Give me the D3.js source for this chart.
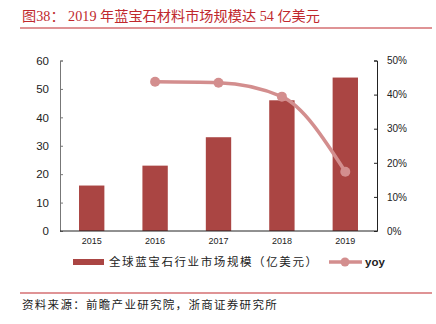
<!DOCTYPE html>
<html><head><meta charset="utf-8">
<script src="https://cdn.jsdelivr.net/npm/d3@7/dist/d3.min.js"></script>
<style>body{margin:0;background:#fff}svg{display:block}</style>
</head><body>
<svg id="c" width="436" height="324"></svg>
<script>
const categories = ["2015","2016","2017","2018","2019"];
const marketSize = [16, 23, 33, 46, 54];
const yoyYears = ["2016","2017","2018","2019"];
const yoyValues = [0.4375, 0.435, 0.394, 0.174];
const leftTicks = [0,10,20,30,40,50,60];
const rightTicks = [0,0.1,0.2,0.3,0.4,0.5];

const svg = d3.select("#c");
const cjk = "'Noto Sans CJK SC', sans-serif";
const serif = "'Liberation Serif','DejaVu Serif', 'Noto Sans CJK SC', serif";
const sans = "'Liberation Sans', Arial, sans-serif";
const red = "#c0282d";

// title
svg.append("text").attr("x",22).attr("y",21).attr("fill",red)
  .attr("font-family",serif).attr("font-size",14.2)
  .text("图38：  2019 年蓝宝石材料市场规模达 54 亿美元");
svg.append("line").attr("x1",20).attr("x2",432).attr("y1",28).attr("y2",28)
  .attr("stroke",red).attr("stroke-width",1.2);

const x0 = 60, x1 = 377, yTop = 60.5, yBot = 231;
const x = d3.scaleBand().domain(categories).range([x0,x1]).paddingInner(0.6).paddingOuter(0.3);
const yL = d3.scaleLinear().domain([0,60]).range([yBot,yTop]);
const yR = d3.scaleLinear().domain([0,0.5]).range([yBot,yTop]);

// bars
svg.append("g").selectAll("rect").data(categories).join("rect")
  .attr("x", d=>x(d)).attr("width", x.bandwidth())
  .attr("y", (d,i)=>yL(marketSize[i])).attr("height",(d,i)=>yBot-yL(marketSize[i]))
  .attr("fill","#aa4543");

// line
const line = d3.line().x((d,i)=>x(yoyYears[i])+x.bandwidth()/2).y(d=>yR(d)).curve(d3.curveMonotoneX);
svg.append("path").datum(yoyValues).attr("d",line).attr("fill","none")
  .attr("stroke","#d38e8e").attr("stroke-width",3.5);
svg.append("g").selectAll("circle").data(yoyValues).join("circle")
  .attr("cx",(d,i)=>x(yoyYears[i])+x.bandwidth()/2).attr("cy",d=>yR(d)).attr("r",5)
  .attr("fill","#d38e8e");

// left axis
const gL = svg.append("g").attr("transform",`translate(${x0},0)`)
  .call(d3.axisLeft(yL).tickValues(leftTicks).tickSize(-3).tickPadding(11));
gL.select(".domain").attr("stroke","#777");
gL.selectAll(".tick line").attr("stroke","#777");
gL.selectAll("text").attr("font-family",sans).attr("font-size",11.5).attr("fill","#222");

// right axis
const gR = svg.append("g").attr("transform",`translate(${x1},0)`)
  .call(d3.axisRight(yR).tickValues(rightTicks).tickSize(-3).tickPadding(10).tickFormat(d3.format(".0%")));
gR.select(".domain").attr("stroke","#222");
gR.selectAll(".tick line").attr("stroke","#222");
gR.selectAll("text").attr("font-family",sans).attr("font-size",10).attr("fill","#222");

// bottom axis
const gB = svg.append("g").attr("transform",`translate(0,${yBot})`)
  .call(d3.axisBottom(x).tickSize(0).tickPadding(7));
gB.select(".domain").attr("stroke","#222").attr("d",`M${x0},0H${x1}`);
gB.selectAll("text").attr("font-family",sans).attr("font-size",9).attr("fill","#222");

// legend
svg.append("rect").attr("x",73).attr("y",259).attr("width",31).attr("height",6).attr("fill","#aa4543");
svg.append("text").attr("x",109).attr("y",266).attr("font-family",cjk).attr("font-size",11.5)
  .attr("letter-spacing",1.6).attr("fill","#222").text("全球蓝宝石行业市场规模（亿美元）");
svg.append("line").attr("x1",329).attr("x2",362).attr("y1",262).attr("y2",262)
  .attr("stroke","#d38e8e").attr("stroke-width",3.5);
svg.append("circle").attr("cx",345).attr("cy",262).attr("r",4.5).attr("fill","#d38e8e");
svg.append("text").attr("x",365).attr("y",266).attr("font-family",sans).attr("font-size",11.5)
  .attr("font-weight","bold").attr("fill","#222").text("yoy");

// footer
svg.append("line").attr("x1",20).attr("x2",432).attr("y1",293).attr("y2",293)
  .attr("stroke",red).attr("stroke-width",1.2);
svg.append("text").attr("x",22).attr("y",309).attr("font-family",cjk).attr("font-size",11.5)
  .attr("letter-spacing",1.3).attr("fill","#222").text("资料来源：前瞻产业研究院，浙商证券研究所");
</script>
</body></html>
